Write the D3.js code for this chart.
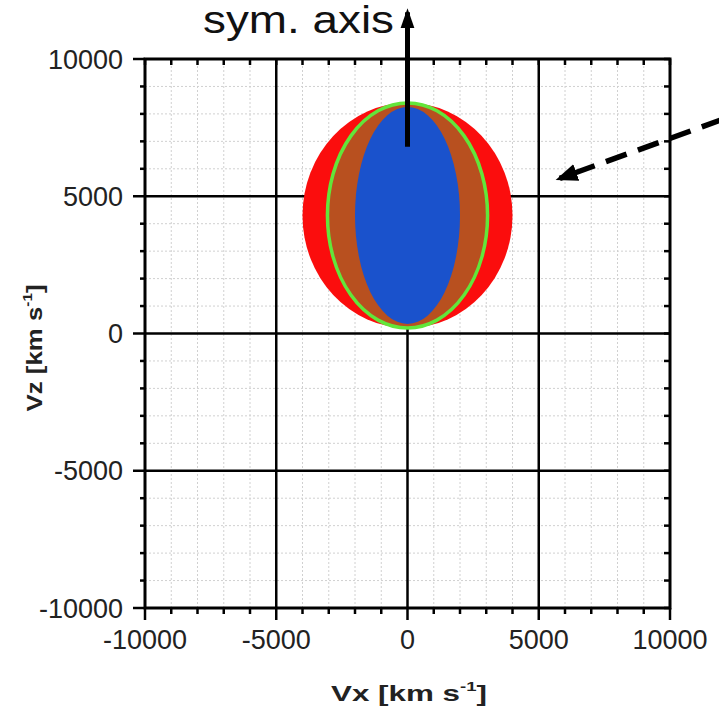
<!DOCTYPE html>
<html>
<head>
<meta charset="utf-8">
<script src="https://cdn.jsdelivr.net/npm/d3@7"></script>
<style>
  html, body { margin: 0; padding: 0; background: #fff; }
  svg { display: block; }
  text { font-family: Arial, "Liberation Sans", sans-serif; }
</style>
</head>
<body>
<svg id="chart" width="719" height="716"></svg>
<script>
// Axis ticks (km/s)
const majorTicks = [-10000, -5000, 0, 5000, 10000];
const minorTicks = d3.range(-10000, 10001, 1000);
const tickLabels = ["-10000", "-5000", "0", "5000", "10000"];

// Velocity-space shapes: [cx, cz, rx, rz] in km/s
const outerShell = [0, 4300, 4000, 4100];   // red
const middleShell = [0, 4300, 3050, 4100];  // brown, green rim
const innerCore = [0, 4300, 2000, 3950];    // blue

// Symmetry axis arrow (vz from, vz to) at vx = 0
const symAxis = [6800, 11700];
// Dashed pointer (vx, vz) start -> tip
const pointer = [[12000, 7800], [5800, 5650]];

const svg = d3.select("#chart");
const x = d3.scaleLinear().domain([-10000, 10000]).range([145, 670]);
const y = d3.scaleLinear().domain([-10000, 10000]).range([608, 59]);

const defs = svg.append("defs");
defs.append("marker").attr("id", "headSolid")
  .attr("viewBox", "0 0 10 10").attr("refX", 8).attr("refY", 5)
  .attr("markerWidth", 4).attr("markerHeight", 4).attr("orient", "auto")
  .append("path").attr("d", "M0,1.5 L10,5 L0,8.5 Z").attr("fill", "#000");
defs.append("marker").attr("id", "headDash")
  .attr("viewBox", "0 0 10 10").attr("refX", 8).attr("refY", 5)
  .attr("markerWidth", 4).attr("markerHeight", 4).attr("orient", "auto")
  .append("path").attr("d", "M0,1 L10,5 L0,9 Z").attr("fill", "#000");

// Minor dotted grid
const minorOnly = minorTicks.filter(d => !majorTicks.includes(d));
const grid = svg.append("g");
grid.selectAll(".gv").data(minorOnly)
  .join("line").attr("x1", d => x(d)).attr("x2", d => x(d))
  .attr("y1", y(-10000)).attr("y2", y(10000))
  .attr("stroke", "#d0d0d0").attr("stroke-width", 1).attr("stroke-dasharray", "2,2");
grid.selectAll(".gh").data(minorOnly)
  .join("line").attr("y1", d => y(d)).attr("y2", d => y(d))
  .attr("x1", x(-10000)).attr("x2", x(10000))
  .attr("stroke", "#d0d0d0").attr("stroke-width", 1).attr("stroke-dasharray", "2,2");

// Major solid grid
const inner = majorTicks.filter(d => Math.abs(d) < 10000);
svg.append("g").selectAll("line").data(inner).join("line")
  .attr("x1", d => x(d)).attr("x2", d => x(d))
  .attr("y1", y(-10000)).attr("y2", y(10000))
  .attr("stroke", "#000").attr("stroke-width", 2.5);
svg.append("g").selectAll("line").data(inner).join("line")
  .attr("y1", d => y(d)).attr("y2", d => y(d))
  .attr("x1", x(-10000)).attr("x2", x(10000))
  .attr("stroke", "#000").attr("stroke-width", 2.5);

// Shells
function ellipse(g, s, fill, stroke, sw) {
  return g.append("ellipse")
    .attr("cx", x(s[0])).attr("cy", y(s[1]))
    .attr("rx", x(s[0] + s[2]) - x(s[0])).attr("ry", y(s[1]) - y(s[1] + s[3]))
    .attr("fill", fill).attr("stroke", stroke).attr("stroke-width", sw);
}
const shapes = svg.append("g");
ellipse(shapes, outerShell, "#fb0d0d", "none", 0);
ellipse(shapes, middleShell, "#b8501f", "#62e63a", 3.5);
ellipse(shapes, innerCore, "#1a52cc", "none", 0);

// Frame
svg.append("rect").attr("x", x(-10000)).attr("y", y(10000))
  .attr("width", x(10000) - x(-10000)).attr("height", y(-10000) - y(10000))
  .attr("fill", "none").attr("stroke", "#000").attr("stroke-width", 3);

// Ticks: outward on bottom/left, inward on top/right
const tk = svg.append("g").attr("stroke", "#000").attr("stroke-width", 2.5);
minorTicks.forEach(d => {
  const big = majorTicks.includes(d);
  tk.append("line").attr("x1", x(d)).attr("x2", x(d)).attr("y1", y(-10000)).attr("y2", y(-10000) + (big ? 12 : 6));
  tk.append("line").attr("y1", y(d)).attr("y2", y(d)).attr("x1", x(-10000)).attr("x2", x(-10000) - (big ? 12 : 5));
  tk.append("line").attr("x1", x(d)).attr("x2", x(d)).attr("y1", y(10000)).attr("y2", y(10000) + 6);
  tk.append("line").attr("y1", y(d)).attr("y2", y(d)).attr("x1", x(10000)).attr("x2", x(10000) - 6);
});

// Tick labels
svg.append("g").selectAll("text").data(majorTicks).join("text")
  .attr("x", d => x(d)).attr("y", 649)
  .attr("text-anchor", "middle").attr("font-size", 27).attr("fill", "#222")
  .text((d, i) => tickLabels[i]);
svg.append("g").selectAll("text").data(majorTicks).join("text")
  .attr("x", 123).attr("y", d => y(d)).attr("dy", "0.36em")
  .attr("text-anchor", "end").attr("font-size", 27).attr("fill", "#222")
  .text((d, i) => tickLabels[i]);

// Axis titles
function unitTitle(sel, name, len) {
  const t = sel.attr("text-anchor", "middle").attr("font-size", 22)
    .attr("font-weight", "bold").attr("fill", "#222")
    .attr("textLength", len).attr("lengthAdjust", "spacingAndGlyphs");
  t.append("tspan").text(name + " [km s");
  t.append("tspan").attr("font-size", 13).attr("dy", -10).text("-1");
  t.append("tspan").attr("dy", 10).text("]");
  return t;
}
unitTitle(svg.append("text").attr("x", 409).attr("y", 701), "Vx", 156);
unitTitle(svg.append("text").attr("transform", "translate(42,348) rotate(-90)"), "Vz", 127);

// Symmetry axis arrow
svg.append("line").attr("x1", x(0)).attr("x2", x(0))
  .attr("y1", y(symAxis[0])).attr("y2", y(symAxis[1]))
  .attr("stroke", "#000").attr("stroke-width", 5).attr("marker-end", "url(#headSolid)");
svg.append("text").attr("x", 203).attr("y", 33)
  .attr("font-size", 38).attr("fill", "#111")
  .attr("textLength", 191).attr("lengthAdjust", "spacingAndGlyphs")
  .text("sym. axis");

// Dashed pointer arrow
svg.append("line")
  .attr("x1", x(pointer[0][0])).attr("y1", y(pointer[0][1]))
  .attr("x2", x(pointer[1][0])).attr("y2", y(pointer[1][1]))
  .attr("stroke", "#000").attr("stroke-width", 5.5).attr("stroke-dasharray", "22,12")
  .attr("marker-end", "url(#headDash)");
</script>
</body>
</html>
